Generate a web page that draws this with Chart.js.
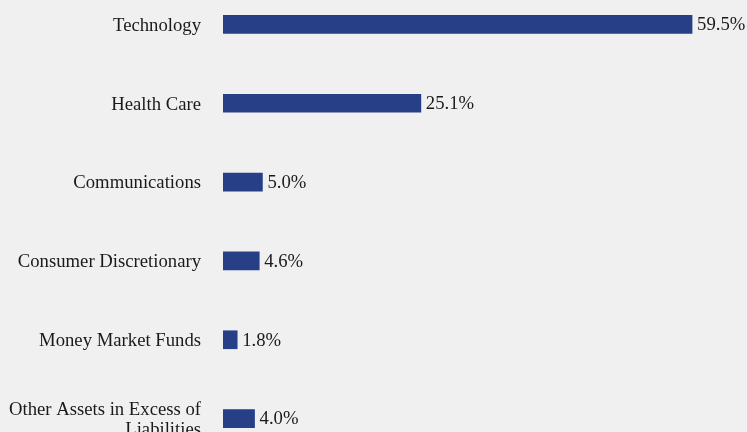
<!DOCTYPE html>
<html lang="en">
<head>
  <meta charset="UTF-8">
  <title>Sector Allocation</title>
  <script src="https://cdn.jsdelivr.net/npm/chart.js"></script>
  <style>
    html, body {
      margin: 0;
      padding: 0;
      background: #f0f0f0;
      overflow: hidden;
    }
    #sectorChart {
      position: absolute;
      left: 0;
      top: -15px;
    }
  </style>
</head>
<body>
  <canvas id="sectorChart" width="747" height="473"></canvas>
  <script>
    const sectors = ['Technology', 'Health Care', 'Communications', 'Consumer Discretionary', 'Money Market Funds', ['Other Assets in Excess of', 'Liabilities']];
    const weights = [59.5, 25.1, 5.0, 4.6, 1.8, 4.0];

    const valueLabels = {
      id: 'valueLabels',
      afterDatasetsDraw(chart) {
        const ctx = chart.ctx;
        const meta = chart.getDatasetMeta(0);
        ctx.save();
        ctx.font = '18.7px "Liberation Serif", "Times New Roman", serif';
        ctx.fillStyle = '#1a1a1a';
        ctx.textBaseline = 'middle';
        ctx.textAlign = 'left';
        meta.data.forEach((bar, i) => {
          ctx.fillText(weights[i].toFixed(1) + '%', bar.x + 5, bar.y + 1);
        });
        ctx.restore();
      }
    };

    new Chart(document.getElementById('sectorChart'), {
      type: 'bar',
      data: {
        labels: sectors,
        datasets: [{
          data: weights,
          backgroundColor: '#263f87',
          barThickness: 18
        }]
      },
      options: {
        indexAxis: 'y',
        responsive: false,
        animation: false,
        layout: { padding: { left: 0, right: 51, top: 0, bottom: 0 } },
        plugins: {
          legend: { display: false },
          tooltip: { enabled: false }
        },
        scales: {
          x: {
            display: false,
            min: 0,
            max: 60
          },
          y: {
            grid: { display: false, drawTicks: false },
            border: { display: false },
            ticks: {
              color: '#1a1a1a',
              padding: 22,
              labelOffset: 1.5,
              font: { family: '"Liberation Serif", "Times New Roman", serif', size: 18.7, lineHeight: 1.05 }
            },
            afterFit(scale) {
              scale.width = 223;
              scale.paddingTop = 0;
              scale.paddingBottom = 0;
            }
          }
        }
      },
      plugins: [valueLabels]
    });
  </script>
</body>
</html>
